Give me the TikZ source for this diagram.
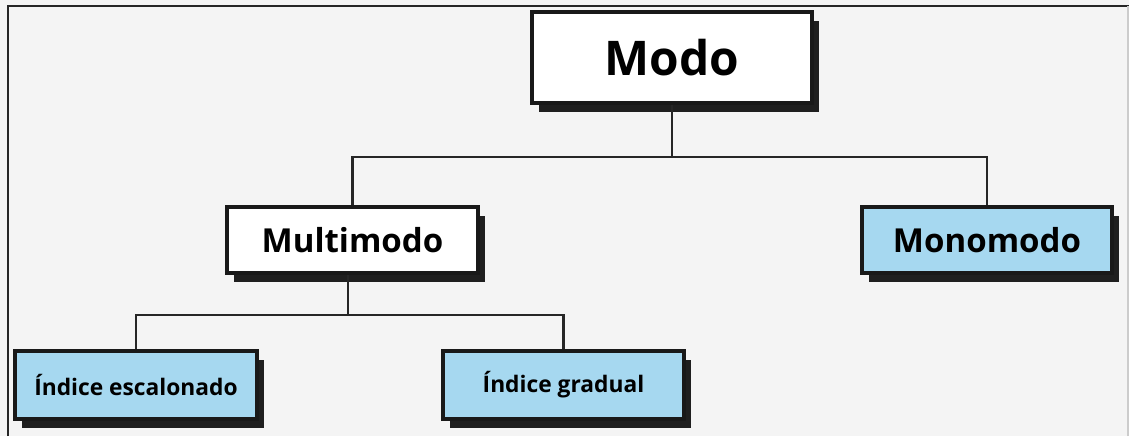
\documentclass[tikz,border=0pt]{standalone}
\usepackage{fontspec}
\setmainfont{Open Sans}
\usepackage{xcolor}
\usepackage{tikz}
\usetikzlibrary{shadows}

\definecolor{fondo}{HTML}{F4F4F4}
\definecolor{celeste}{HTML}{A6D8F0}

\begin{document}
\begin{tikzpicture}[line width=2.2pt,
                    caja/.style n args={3}{draw=black!90,fill=#1,
                    minimum width=#2cm,
                    minimum height=#3cm,
                    inner sep=0pt,
                    drop shadow={shadow xshift=0.17cm,shadow yshift=-0.22cm,
                                 fill=black!88,opacity=1},
                    rectangle,font=\bfseries},
                    rama/.style={draw=black!85,line width=2.1pt}]
    \useasboundingbox (0,0) rectangle (28.225,10.9);
    \fill[fondo] (0,0) rectangle (28.225,10.9);
    \draw[black!85,line width=1.8pt] (0.2,0) -- (0.2,10.75) -- (28.225,10.75);
    \draw[black!20,line width=0.8pt] (28.2,0) -- (28.2,10.75);

    \node[caja={white}{7.0}{2.275},font=\bfseries\fontsize{34}{40}\selectfont](modo) at (16.8,9.4625) {Modo};
    \node[caja={white}{6.275}{1.65},font=\bfseries\fontsize{23.5}{28}\selectfont](multi) at (8.8125,4.9) {Multimodo};
    \node[caja={celeste}{6.25}{1.65},font=\bfseries\fontsize{23.5}{28}\selectfont](mono) at (24.675,4.9) {Monomodo};
    \node[caja={celeste}{6.05}{1.7},font=\bfseries\fontsize{16.2}{20}\selectfont](escal) at (3.4,1.275) {Índice escalonado};
    \node[caja={celeste}{6.025}{1.7},font=\bfseries\fontsize{16.2}{20}\selectfont](grad) at (14.0875,1.275) {Índice gradual};

    \coordinate (b1) at (16.8,6.975);
    \coordinate (b2) at (8.7,3.025);
    \draw[rama] (modo.south) -- (b1) -| (multi.north)
                (b1) -| (mono.north);
    \draw[rama] (multi.south -| b2) -- (b2) -| (escal.north)
                (b2) -| (grad.north);
\end{tikzpicture}
\end{document}
